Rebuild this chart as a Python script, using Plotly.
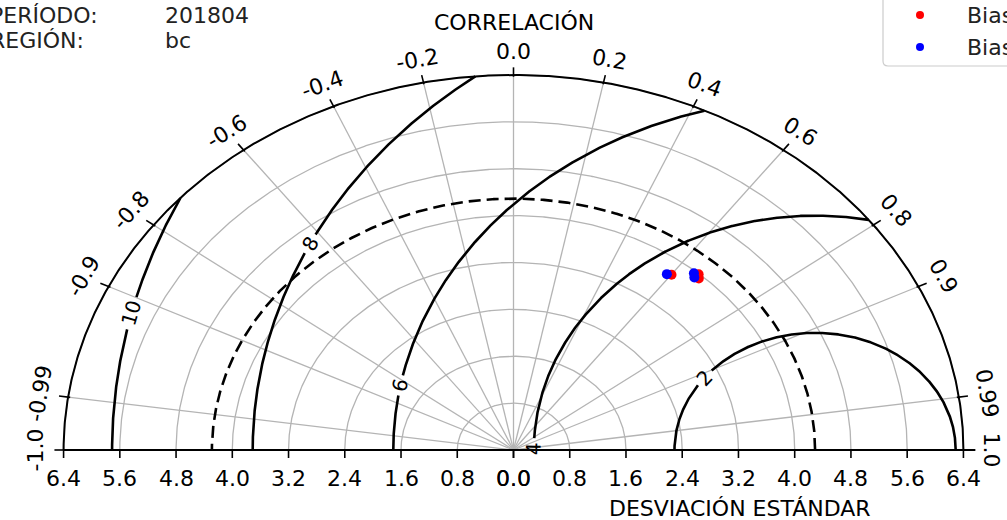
import numpy as np
import plotly.graph_objects as go

# ---------------- data ----------------
ref_std = 4.29
std_max = 6.4
std_ticks = [0.0, 0.8, 1.6, 2.4, 3.2, 4.0, 4.8, 5.6, 6.4]
corr_ticks = [-1.0, -0.99, -0.9, -0.8, -0.6, -0.4, -0.2, 0.0, 0.2, 0.4, 0.6, 0.8, 0.9, 0.99, 1.0]
corr_labels = ["-1.0", "-0.99", "-0.9", "-0.8", "-0.6", "-0.4", "-0.2", "0.0", "0.2", "0.4", "0.6", "0.8", "0.9", "0.99", "1.0"]
rms_levels = [2, 4, 6, 8, 10]
rms_label_angles = [141.9, 179.6, 169.4, 153.9, 166.5]   # angle (deg) around the reference point where clabel sits

red_name = "Bias corregido"
red_std = [3.74, 3.99, 3.94]
red_corr = [0.601, 0.660, 0.669]
blue_name = "Bias original"
blue_std = [3.71, 3.96, 3.91]
blue_corr = [0.588, 0.648, 0.658]

periodo = "201804"
region = "bc"

# ---------------- geometry ----------------
W, H = 1007, 520
ox, oy = 513.5, 450.0      # pixel of origin
sx, sy = 70.3, 58.6        # pixels per unit
xr = [-ox / sx, (W - ox) / sx]
yr = [-(H - oy) / sy, oy / sy]

def px2x(p):
    return (p - ox) / sx

def py2y(p):
    return (oy - p) / sy

FONT = "DejaVu Sans"
FS = 22
GRAY = "#b4b4b4"
fig = go.Figure()

def line(x, y, color, width, dash=None):
    fig.add_trace(go.Scatter(x=x, y=y, mode="lines", hoverinfo="skip", showlegend=False,
                             line=dict(color=color, width=width, dash=dash)))

th = np.linspace(0, np.pi, 721)

# gray std arcs
for s in std_ticks[1:]:
    line(s * np.cos(th), s * np.sin(th), GRAY, 1.3)

# gray radial lines
for c in corr_ticks:
    t = np.arccos(c)
    line([0, std_max * np.cos(t)], [0, std_max * np.sin(t)], GRAY, 1.3)

# RMS contours (clipped to outer circle, with gaps for labels)
def arc_px_per_rad(R, phi):
    return np.hypot(R * np.sin(phi) * sx, R * np.cos(phi) * sy)

for R, ang, in zip(rms_levels, rms_label_angles):
    phi = np.linspace(0, np.pi, 2001)
    x = ref_std + R * np.cos(phi)
    y = R * np.sin(phi)
    mask = np.hypot(x, y) > std_max + 1e-9
    a = np.radians(ang)
    half_w = (len(str(R)) * 12 + 8) / 2.0
    gap = half_w / arc_px_per_rad(R, a)
    mask |= np.abs(phi - a) < gap
    x = np.where(mask, np.nan, x)
    y = np.where(mask, np.nan, y)
    line(x, y, "black", 2.6)
    # label
    lx = ref_std + R * np.cos(a)
    ly = R * np.sin(a)
    tx, ty = -np.sin(a) * sx, -np.cos(a) * sy   # tangent direction in pixel space (y down)
    rot = np.degrees(np.arctan2(ty, tx))
    if rot > 90:
        rot -= 180
    if rot < -90:
        rot += 180
    fig.add_annotation(x=lx, y=ly, text=str(R), showarrow=False, textangle=rot,
                       font=dict(family=FONT, size=20, color="black"))

# reference std (dashed)
line(ref_std * np.cos(th), ref_std * np.sin(th), "black", 2.6, "12px,6px")

# outer circle and baseline
line(std_max * np.cos(th), std_max * np.sin(th), "black", 2.0)
line([-std_max, std_max + 0.17], [0, 0], "black", 2.0)

# baseline ticks + labels
tick_len = 8 / sy
for s in std_ticks:
    for sign in (-1, 1):
        line([sign * s, sign * s], [0, -tick_len], "black", 1.6)
        fig.add_annotation(x=sign * s, y=py2y(478), text=f"{s:.1f}", showarrow=False,
                           font=dict(family=FONT, size=FS, color="black"))

# correlation ticks + labels
for c, lab in zip(corr_ticks, corr_labels):
    t = np.arccos(c)
    line([(std_max - 0.03) * np.cos(t), (std_max + 0.13) * np.cos(t)],
         [(std_max - 0.03) * np.sin(t), (std_max + 0.13) * np.sin(t)], "black", 1.6)
    rl = 6.8
    rot = np.degrees(np.arctan2(np.cos(t) * sy, np.sin(t) * sx))
    fig.add_annotation(x=rl * np.cos(t), y=rl * np.sin(t), text=lab, showarrow=False,
                       textangle=rot, font=dict(family=FONT, size=FS, color="black"))

# data points
def pts(std, corr, color):
    std = np.array(std)
    t = np.arccos(np.array(corr))
    fig.add_trace(go.Scatter(x=std * np.cos(t), y=std * np.sin(t), mode="markers",
                             showlegend=False, hoverinfo="skip",
                             marker=dict(color=color, size=10, line=dict(width=0))))

pts(red_std, red_corr, "red")
pts(blue_std, blue_corr, "blue")

# titles
fig.add_annotation(x=0, y=py2y(22), text="CORRELACIÓN", showarrow=False,
                   font=dict(family=FONT, size=FS, color="black"))
fig.add_annotation(x=px2x(740), y=py2y(508), text="DESVIACIÓN ESTÁNDAR", showarrow=False,
                   font=dict(family=FONT, size=FS, color="black"))

# header info
for label, val, yp in (("PERÍODO:", periodo, 15), ("REGIÓN:", region, 41)):
    fig.add_annotation(xref="paper", yref="paper", x=-12 / W, y=1 - yp / H,
                       xanchor="left", yanchor="middle",
                       text=label, showarrow=False, font=dict(family=FONT, size=FS, color="#222"))
    fig.add_annotation(xref="paper", yref="paper", x=163 / W, y=1 - yp / H,
                       xanchor="left", yanchor="middle",
                       text=val, showarrow=False, font=dict(family=FONT, size=FS, color="#222"))

# manual legend (cut by right edge as in reference)
x0, y0, x1, y1, rr = 883, -10, 1030, 66, 5
path = (f"M {x0/W},{1-(y0)/H} L {x0/W},{1-(y1-rr)/H} "
        f"Q {x0/W},{1-y1/H} {(x0+rr)/W},{1-y1/H} L {x1/W},{1-y1/H}")
fig.add_shape(type="rect", xref="paper", yref="paper", x0=x0 / W, x1=x1 / W,
              y0=1 - y1 / H, y1=1 - y0 / H, fillcolor="white", line=dict(width=0), layer="above")
fig.add_shape(type="path", xref="paper", yref="paper", path=path,
              line=dict(color="#cccccc", width=1.2), layer="above")
for name, color, yp in ((red_name, "red", 15), (blue_name, "blue", 47)):
    fig.add_shape(type="circle", xref="paper", yref="paper",
                  x0=(920 - 4) / W, x1=(920 + 4) / W, y0=1 - (yp + 4) / H, y1=1 - (yp - 4) / H,
                  fillcolor=color, line=dict(width=0), layer="above")
    fig.add_annotation(xref="paper", yref="paper", x=965 / W, y=1 - yp / H,
                       xanchor="left", yanchor="middle",
                       text=name, showarrow=False, font=dict(family=FONT, size=FS, color="#222"))

fig.update_layout(
    width=W, height=H, margin=dict(l=0, r=0, t=0, b=0),
    paper_bgcolor="white", plot_bgcolor="white", showlegend=False,
    xaxis=dict(range=xr, visible=False, fixedrange=True),
    yaxis=dict(range=yr, visible=False, fixedrange=True),
)
fig.write_html("out.html")
